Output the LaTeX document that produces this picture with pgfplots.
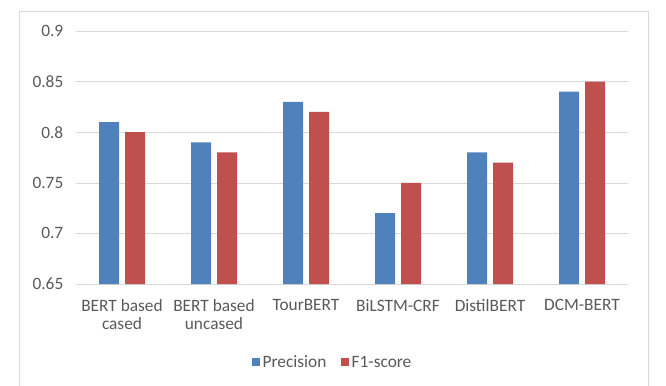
\documentclass[border=0pt]{standalone}
\usepackage{pgfplots}
\pgfplotsset{compat=1.18}
\usepackage{fontspec}
\setmainfont{Carlito}
\definecolor{cblue}{HTML}{4F81BD}
\definecolor{cred}{HTML}{C0504D}
\definecolor{ctext}{HTML}{595959}
\definecolor{cgrid}{HTML}{D9D9D9}
\begin{document}
\begin{tikzpicture}
\useasboundingbox (0,0) rectangle (499.5pt,288.75pt);
\draw[cgrid] (14.25pt,-5pt) rectangle (486pt,280.5pt);
\begin{axis}[
  at={(57pt,75.75pt)}, anchor=south west,
  scale only axis, width=414pt, height=189.75pt,
  ybar, bar width=15pt, ybar=4.5pt,
  xmin=-0.5, xmax=5.5, ymin=0.65, ymax=0.9,
  ytick={0.65,0.7,0.75,0.8,0.85,0.9},
  xtick={0,1,2,3,4,5},
  xticklabels={{BERT based\\cased},{BERT based\\uncased},TourBERT,BiLSTM-CRF,DistilBERT,DCM-BERT},
  xticklabel style={align=center, font=\fontsize{13}{13.5}\selectfont, text=ctext, yshift=-8pt},
  yticklabel style={font=\fontsize{13}{14.5}\selectfont, text=ctext, xshift=-6pt},
  /pgf/number format/assume math mode=true,
  ymajorgrids, grid style={cgrid},
  major tick length=0pt,
  axis x line*=bottom,
  axis y line*=left,
  x axis line style={cgrid, -},
  y axis line style={draw=none},
  legend style={at={(0.4656,-0.31)}, anchor=center, draw=none, legend columns=2,
    font=\fontsize{13}{14.5}\selectfont, text=ctext,
    /tikz/every even column/.append style={column sep=9pt}},
  legend image code/.code={\fill[#1,draw=none] (1pt,-3pt) rectangle (7pt,3pt);},
]
\addplot[fill=cblue, draw=none] coordinates {(0,0.81) (1,0.79) (2,0.83) (3,0.72) (4,0.78) (5,0.84)};
\addplot[fill=cred, draw=none] coordinates {(0,0.80) (1,0.78) (2,0.82) (3,0.75) (4,0.77) (5,0.85)};
\legend{Precision, F1-score}
\end{axis}
\end{tikzpicture}
\end{document}
